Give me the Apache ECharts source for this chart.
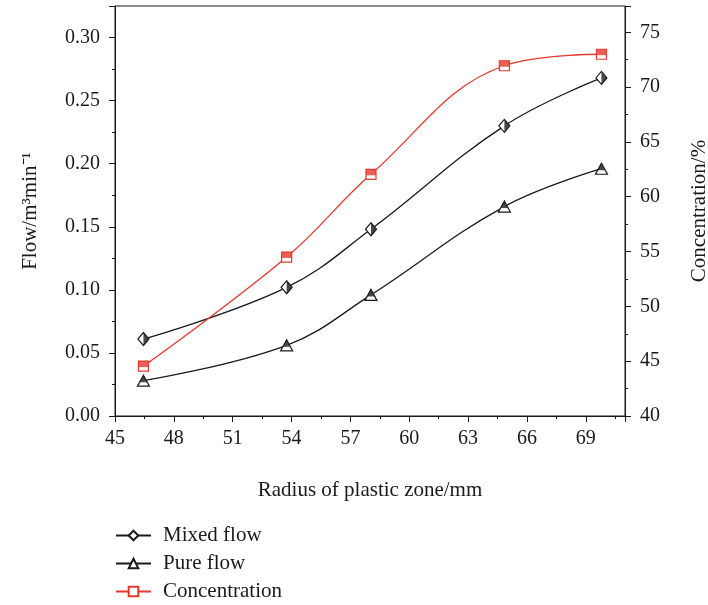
<!DOCTYPE html>
<html>
<head>
<meta charset="utf-8">
<script src="https://cdn.jsdelivr.net/npm/echarts@6/dist/echarts.min.js"></script>
<style>
  html, body { margin: 0; padding: 0; background: #fff; }
  #chart { width: 708px; height: 605px; }
</style>
</head>
<body>
<div id="chart"></div>
<script>
// data
const radius = [46.45, 53.75, 58.05, 64.85, 69.8]
const mixedFlow = [0.061, 0.102, 0.148, 0.230, 0.268]
const pureFlow = [0.028, 0.056, 0.096, 0.166, 0.196]
const concentration = [44.55, 54.5, 62.05, 71.95, 73.0]

const FONT = 'Liberation Serif'
const RED = '#e4392c'
const BLACK = '#1a1a1a'

const pairs = (ys) => radius.map((x, i) => [x, ys[i]])

const axisCommon = {
    axisLine: { show: true, lineStyle: { color: BLACK, width: 1 } },
    axisTick: { show: true, inside: false, length: 6, lineStyle: { color: BLACK } },
    minorTick: { show: true, splitNumber: 2, length: 3, lineStyle: { color: BLACK } },
    splitLine: { show: false },
    minorSplitLine: { show: false },
    nameTextStyle: { fontFamily: FONT, fontSize: 21, color: BLACK },
}
const labelStyle = { fontFamily: FONT, fontSize: 20, color: BLACK, showMaxLabel: false }

const chart = echarts.init(document.getElementById('chart'))
chart.setOption({
    animation: false,
    backgroundColor: '#fff',
    grid: {
        left: 115, right: 83, top: 6, bottom: 189,
        containLabel: false,
        outerBoundsMode: 'none',
        show: true, borderColor: BLACK, borderWidth: 1
    },
    legend: {
        orient: 'vertical',
        left: 115, top: 525,
        padding: 0,
        itemWidth: 35, itemHeight: 12, itemGap: 7,
        data: ['Mixed flow', 'Pure flow', 'Concentration'],
        textStyle: { fontFamily: FONT, fontSize: 21, color: BLACK, lineHeight: 21, padding: [0, 0, 0, 7] }
    },
    xAxis: {
        ...axisCommon,
        type: 'value',
        min: 45, max: 71, interval: 3,
        name: 'Radius of plastic zone/mm',
        nameLocation: 'middle',
        nameGap: 64,
        axisLabel: { ...labelStyle, margin: 13 }
    },
    yAxis: [{
        ...axisCommon,
        type: 'value',
        position: 'left',
        min: 0, max: 0.325, interval: 0.05,
        name: 'Flow/m³min⁻¹',
        nameLocation: 'middle',
        nameRotate: 90,
        nameGap: 74,
        axisLabel: { ...labelStyle, margin: 15, formatter: v => v.toFixed(2) }
    }, {
        ...axisCommon,
        type: 'value',
        position: 'right',
        min: 40, max: 77.4, interval: 5,
        name: 'Concentration/%',
        nameLocation: 'middle',
        nameRotate: 90,
        nameGap: 64,
        axisLabel: { ...labelStyle, margin: 15 }
    }],
    series: [{
        name: 'Mixed flow',
        type: 'line',
        smooth: 0.4,
        data: pairs(mixedFlow),
        symbol: 'diamond',
        symbolSize: [11, 13],
        lineStyle: { color: BLACK, width: 1.3 },
        itemStyle: { color: '#fff', borderColor: BLACK, borderWidth: 1.2 },
        z: 2
    }, {
        name: 'mixedHalf',
        type: 'scatter',
        data: pairs(mixedFlow),
        symbol: 'path://M0,0L1,1L0,2Z',
        symbolSize: [5.5, 13],
        symbolOffset: [2.75, 0],
        itemStyle: { color: BLACK },
        silent: true,
        z: 4
    }, {
        name: 'Pure flow',
        type: 'line',
        smooth: 0.4,
        data: pairs(pureFlow),
        symbol: 'triangle',
        symbolSize: [12, 11],
        lineStyle: { color: BLACK, width: 1.3 },
        itemStyle: { color: '#fff', borderColor: BLACK, borderWidth: 1.2 },
        z: 2
    }, {
        name: 'pureHalf',
        type: 'scatter',
        data: pairs(pureFlow),
        symbol: 'triangle',
        symbolSize: [7.5, 7],
        symbolOffset: [0, -2],
        itemStyle: { color: BLACK },
        silent: true,
        z: 4
    }, {
        name: 'Concentration',
        type: 'line',
        yAxisIndex: 1,
        smooth: 0.4,
        data: pairs(concentration),
        symbol: 'rect',
        symbolSize: 10,
        lineStyle: { color: RED, width: 1.3 },
        itemStyle: { color: '#fff', borderColor: RED, borderWidth: 1.2 },
        z: 2
    }, {
        name: 'concHalf',
        type: 'scatter',
        yAxisIndex: 1,
        data: pairs(concentration),
        symbol: 'rect',
        symbolSize: [10, 6],
        symbolOffset: [0, -2],
        itemStyle: { color: RED },
        silent: true,
        z: 4
    }]
})
</script>
</body>
</html>
